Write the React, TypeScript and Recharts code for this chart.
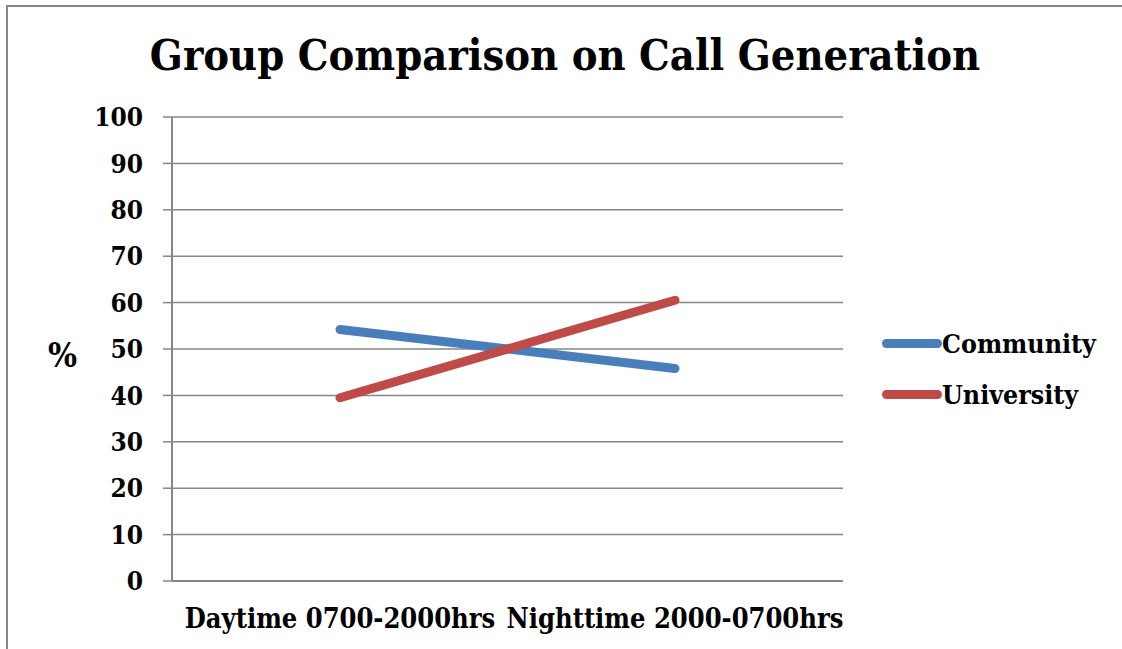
import { LineChart, Line, XAxis, YAxis, CartesianGrid, Label } from "recharts";

const periods = ["Daytime 0700-2000hrs", "Nighttime 2000-0700hrs"];
const community = [54.2, 45.8];
const university = [39.5, 60.5];
const yTicks = [0, 10, 20, 30, 40, 50, 60, 70, 80, 90, 100];

const series = [
  { key: "community", name: "Community", color: "#4A7EBB" },
  { key: "university", name: "University", color: "#BE4B48" },
];

const data = periods.map((p, i) => ({
  period: p,
  community: community[i],
  university: university[i],
}));

// boundaries between categories, like Excel's tick marks
const boundaryTicks = periods.map((_, i) => i).concat(periods.length);

const FONT = "'DejaVu Serif Condensed', 'DejaVu Serif', serif";
const GRID = "#868686";

export default function App() {
  return (
    <div style={{ position: "absolute", left: 0, top: 0, width: 1122, height: 649, background: "#fff", fontFamily: FONT }}>
      <div
        style={{
          position: "absolute",
          left: 6,
          top: 5,
          right: 0,
          bottom: -10,
          borderLeft: `2px solid ${GRID}`,
          borderTop: `2px solid ${GRID}`,
        }}
      />
      <div
        style={{
          position: "absolute",
          left: 0,
          width: 1130,
          top: 30,
          textAlign: "center",
          fontSize: 43,
          fontWeight: "bold",
          color: "#000",
        }}
      >
        Group Comparison on Call Generation
      </div>
      <div style={{ position: "absolute", left: 0, top: 0 }}>
        <LineChart
          width={1122}
          height={649}
          data={data}
          margin={{ top: 117, right: 279, left: 43, bottom: 8 }}
        >
          <CartesianGrid vertical={false} stroke={GRID} strokeWidth={1.5} />
          <XAxis
            xAxisId={0}
            type="number"
            domain={[0, periods.length]}
            ticks={boundaryTicks}
            tick={false}
            tickSize={7}
            height={8}
            axisLine={{ stroke: GRID, strokeWidth: 2 }}
            tickLine={{ stroke: GRID, strokeWidth: 2 }}
          />
          <XAxis
            xAxisId={1}
            dataKey="period"
            axisLine={false}
            tickLine={false}
            tickMargin={14}
            height={52}
            padding={{ left: 168, right: 168 }}
            tick={{ fill: "#000", fontSize: 27, fontWeight: "bold", fontFamily: FONT }}
          />
          <YAxis
            domain={[0, 100]}
            ticks={yTicks}
            width={129}
            tickSize={9}
            tickMargin={20}
            axisLine={{ stroke: GRID, strokeWidth: 2 }}
            tickLine={{ stroke: GRID, strokeWidth: 1.5 }}
            tick={{ fill: "#000", fontSize: 26, fontWeight: "bold", fontFamily: FONT }}
          >
            <Label
              value="%"
              position="insideLeft"
              offset={5}
              dy={6}
              style={{ fill: "#000", fontSize: 34, fontWeight: "bold", fontFamily: FONT }}
            />
          </YAxis>
          {series.map((s) => (
            <Line
              key={s.key}
              xAxisId={1}
              dataKey={s.key}
              name={s.name}
              stroke={s.color}
              strokeWidth={9}
              strokeLinecap="round"
              dot={false}
              activeDot={false}
              isAnimationActive={false}
            />
          ))}
        </LineChart>
      </div>
      <div style={{ position: "absolute", left: 882, top: 318 }}>
        {series.map((s) => (
          <div key={s.key} style={{ display: "flex", alignItems: "center", height: 51 }}>
            <div style={{ width: 60, height: 9, borderRadius: 5, background: s.color }} />
            <span style={{ fontSize: 26.5, fontWeight: "bold", color: "#000" }}>{s.name}</span>
          </div>
        ))}
      </div>
    </div>
  );
}
